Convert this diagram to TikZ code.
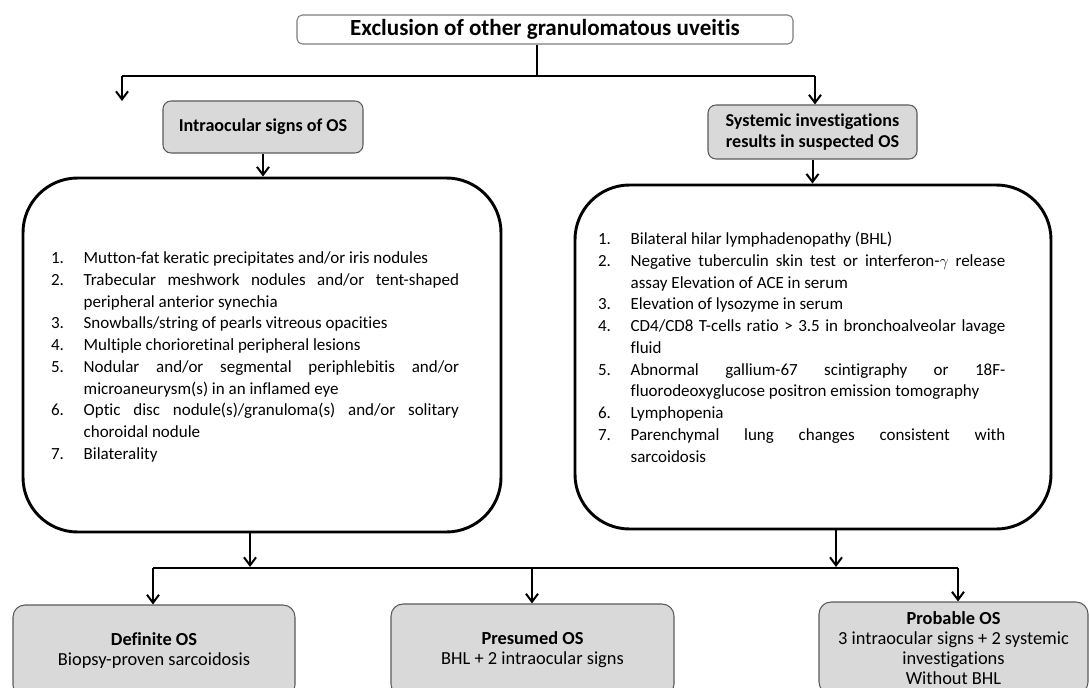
\documentclass[tikz,border=0pt]{standalone}
\usepackage{fontspec}
\setmainfont{Carlito}[Ligatures=NoCommon]
\usepackage{tikz}
\usetikzlibrary{arrows.meta}
\definecolor{boxgray}{RGB}{217,217,217}
\definecolor{edgegray}{RGB}{90,90,90}
\definecolor{titleedge}{RGB}{125,125,125}
\tikzstyle{titlebox}=[draw=titleedge,fill=white,rounded corners=4pt,line width=0.8pt,minimum width=372pt,minimum height=21.75pt,inner sep=0pt,font=\bfseries\fontsize{17.3pt}{20pt}\selectfont]
\tikzstyle{graybox}=[draw=edgegray,fill=boxgray,rounded corners=6pt,line width=0.8pt,inner sep=0pt,align=center,font=\bfseries\fontsize{13.6pt}{16pt}\selectfont]
\tikzstyle{bigbox}=[draw,line width=2.2pt,rounded corners=41pt,inner sep=0pt]
\tikzstyle{outcome}=[draw=edgegray,fill=boxgray,rounded corners=9pt,line width=0.8pt,inner sep=0pt,align=center,minimum height=69pt,font=\fontsize{13.8pt}{15pt}\selectfont]
\tikzstyle{itemlist}=[inner sep=0pt,anchor=north west,align=justify,font=\fontsize{12.75pt}{16.3pt}\selectfont]
\tikzstyle{arr}=[-{Straight Barb[length=6pt,width=9pt]},line width=1.5pt]
\newcommand{\critem}[2]{\par\noindent\hyphenpenalty=10000\hangindent=24.5pt\hangafter=1\makebox[24.5pt][l]{#1.}#2\par}

\begin{document}
\begin{tikzpicture}[x=0.75pt,y=-0.75pt,line width=1.5pt]
\useasboundingbox (0,0) rectangle (1089,688);
% headings
\draw (545,29.5) node [titlebox] (excl) {Exclusion of other granulomatous uveitis};
\draw (263,127) node [graybox,minimum width=150pt,minimum height=39pt] (intra) {Intraocular signs of OS};
\draw (812.5,132) node [graybox,minimum width=156.75pt,minimum height=40.5pt] (syst) {Systemic investigations\\results in suspected OS};
% criteria boxes
\draw (262,355) node [bigbox,minimum width=358.5pt,minimum height=265.5pt] (ocular) {};
\draw (813,357) node [bigbox,minimum width=357pt,minimum height=258pt] (invest) {};
\draw (50,241) node [itemlist,text width=306pt] (ocularlist) {%
\critem{1}{Mutton-fat keratic precipitates and/or iris nodules}
\critem{2}{Trabecular meshwork nodules and/or tent-shaped peripheral anterior synechia}
\critem{3}{Snowballs/string of pearls vitreous opacities}
\critem{4}{Multiple chorioretinal peripheral lesions}
\critem{5}{Nodular and/or segmental periphlebitis and/or microaneurysm(s) in an inflamed eye}
\critem{6}{Optic disc nodule(s)/granuloma(s) and/or solitary choroidal nodule}
\critem{7}{Bilaterality}};
\draw (597,222) node [itemlist,text width=305.5pt] (investlist) {%
\critem{1}{Bilateral hilar lymphadenopathy (BHL)}
\critem{2}{Negative tuberculin skin test or interferon-$\gamma$ release assay Elevation of ACE in serum}
\critem{3}{Elevation of lysozyme in serum}
\critem{4}{CD4/CD8 T-cells ratio > 3.5 in bronchoalveolar lavage fluid}
\critem{5}{Abnormal gallium-67 scintigraphy or 18F-fluorodeoxyglucose positron emission tomography}
\critem{6}{Lymphopenia}
\critem{7}{Parenchymal lung changes consistent with\linebreak sarcoidosis}};
% outcomes
\draw (154,651) node [outcome,minimum width=211.5pt] (definite) {\textbf{Definite OS}\\Biopsy-proven sarcoidosis};
\draw (532.5,650) node [outcome,minimum width=212.25pt] (presumed) {\textbf{Presumed OS}\\BHL + 2 intraocular signs};
\draw (953.5,648) node [outcome,minimum width=201.75pt] (probable) {\textbf{Probable OS}\\3 intraocular signs + 2 systemic\\investigations\\Without BHL};
% connectors
\coordinate (split) at (537,76);
\coordinate (topL) at (122,76);
\coordinate (topR) at (815,76);
\coordinate (tipL) at (122,101);
\draw (split |- excl.south) -- (split);
\draw (topL) -- (topR);
\draw[arr] (topL) -- (tipL);
\draw[arr] (topR) -- (topR |- syst.north);
\draw[arr] (intra.south) -- (intra.south |- ocular.north);
\draw[arr] (syst.south) -- (syst.south |- invest.north);
\coordinate (busL) at (153,568);
\coordinate (busM) at (532,568);
\coordinate (busR) at (958,568);
\coordinate (fromL) at (250,567);
\coordinate (fromR) at (836,567);
\draw[arr] (fromL |- ocular.south) -- (fromL);
\draw[arr] (fromR |- invest.south) -- (fromR);
\draw (busL) -- (busR);
\draw[arr] (busL) -- (busL |- definite.north);
\draw[arr] (busM) -- (busM |- presumed.north);
\draw[arr] (busR) -- (busR |- probable.north);
\end{tikzpicture}
\end{document}
